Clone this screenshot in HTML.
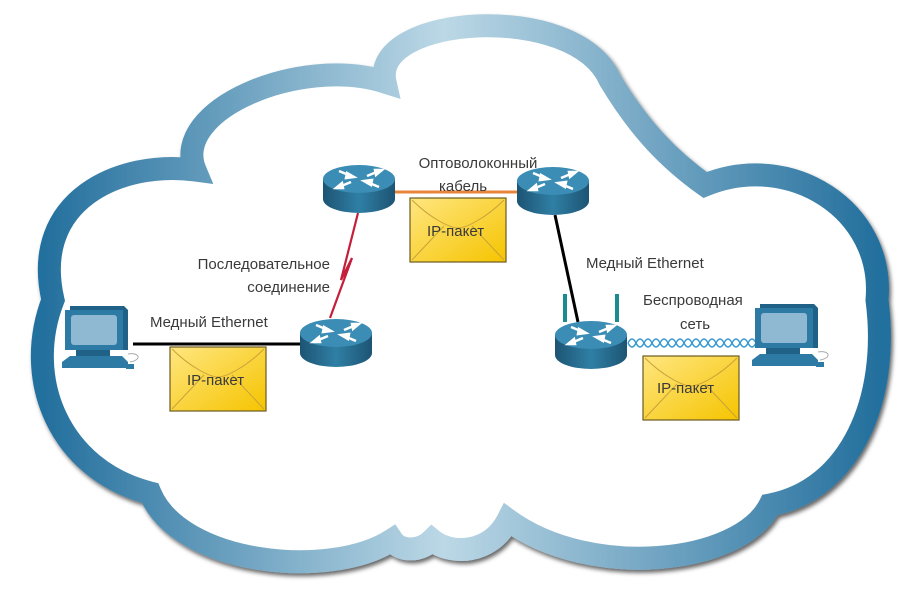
<!DOCTYPE html>
<html><head><meta charset="utf-8"><style>
html,body{margin:0;padding:0;background:#fff;}
svg{display:block;}
text{font-family:"Liberation Sans",sans-serif;font-size:15px;fill:#3a3a3a;}
</style></head><body>
<svg width="900" height="604" viewBox="0 0 900 604" xmlns="http://www.w3.org/2000/svg">
<defs>
<linearGradient id="cg" x1="0" y1="0" x2="1" y2="0">
<stop offset="0" stop-color="#236f9d"/><stop offset="0.48" stop-color="#bcd8e6"/><stop offset="1" stop-color="#236f9d"/>
</linearGradient>
<filter id="sh" x="-10%" y="-10%" width="120%" height="120%"><feDropShadow dx="2" dy="3" stdDeviation="2" flood-color="#000" flood-opacity="0.6"/></filter>
<linearGradient id="rt" x1="0" y1="0" x2="1" y2="0">
<stop offset="0" stop-color="#1d5473"/><stop offset="0.5" stop-color="#2f7fa5"/><stop offset="1" stop-color="#1d5473"/>
</linearGradient>
<linearGradient id="env" x1="0" y1="0" x2="1" y2="1">
<stop offset="0" stop-color="#ffe680"/><stop offset="1" stop-color="#f5c400"/>
</linearGradient>
<g id="router">
<path d="M0 14 V34 A36 14 0 0 0 72 34 V14 Z" fill="url(#rt)"/>
<ellipse cx="36" cy="14" rx="36" ry="14" fill="#3b8db5"/>
<g stroke="#fff" stroke-width="2.5" fill="#fff">
<line x1="16" y1="6" x2="28" y2="11"/><polygon points="31,12 24,8 23,13" />
<line x1="56" y1="22" x2="44" y2="17"/><polygon points="41,16 48,20 49,15"/>
<line x1="44" y1="11" x2="56" y2="6"/><polygon points="59,5 52,5 53,10"/>
<line x1="28" y1="17" x2="16" y2="22"/><polygon points="13,23 20,23 19,18"/>
</g>
</g>
<g id="pc">
<path d="M8 0 H62 L66 4 V44 H8 Z" fill="#1f6187"/>
<rect x="3" y="4" width="58" height="40" fill="#2d7aa5"/>
<rect x="9" y="9" width="46" height="30" rx="3" fill="#8fb8d3"/>
<rect x="14" y="44" width="34" height="6" fill="#1f6187"/>
<path d="M8 50 H60 L66 56 V62 H0 V56 Z" fill="#2d7aa5"/>
<rect x="64" y="58" width="8" height="5" fill="#2d7aa5"/>
<path d="M66 48 C78 46 80 54 68 56" stroke="#aaa" fill="none" stroke-width="1"/>
</g>
<g id="envl">
<rect x="0" y="0" width="96" height="64" fill="url(#env)" stroke="#6b5a20" stroke-width="1.2"/>
<path d="M2 2 C20 20 40 30 48 30 C56 30 76 20 94 2 M2 62 L34 28 M94 62 L62 28" stroke="#c9a23a" fill="none" stroke-width="1"/>
</g>
</defs>
<path d="M385 82 C370 15 575 0 610 80 C640 130 670 160 705 185 C790 150 885 210 877 300 C890 400 850 490 770 505 C740 565 590 580 508 520 C490 555 450 555 432 540 C420 552 400 552 392 540 C330 580 180 565 150 493 C60 470 22 380 53 300 C30 200 120 160 195 170 C170 110 300 55 385 82 Z" fill="#fff" stroke="url(#cg)" stroke-width="23" filter="url(#sh)"/>
<!-- links -->
<line x1="395" y1="192" x2="517" y2="192" stroke="#e8843a" stroke-width="3"/>
<path d="M358 213 L341 280 L352 258 L330 318" stroke="#c41e3a" stroke-width="2.2" fill="none"/>
<line x1="133" y1="344" x2="300" y2="344" stroke="#000" stroke-width="3"/>
<line x1="555" y1="215" x2="578" y2="322" stroke="#000" stroke-width="3"/>
<path d="M628 343 q4 -8 8 0 t8 0 t8 0 t8 0 t8 0 t8 0 t8 0 t8 0 t8 0 t8 0 t8 0 t8 0 t8 0 t8 0 t8 0 t8 0" stroke="#3a9bd0" fill="none" stroke-width="1.5"/>
<path d="M628 343 q4 8 8 0 t8 0 t8 0 t8 0 t8 0 t8 0 t8 0 t8 0 t8 0 t8 0 t8 0 t8 0 t8 0 t8 0 t8 0 t8 0" stroke="#3a9bd0" fill="none" stroke-width="1.5"/>
<!-- devices -->
<use href="#router" x="323" y="165"/>
<use href="#router" x="517" y="167"/>
<use href="#router" x="300" y="319"/>
<rect x="563" y="294" width="4" height="28" fill="#1a8c8c"/>
<rect x="615" y="294" width="4" height="28" fill="#1a8c8c"/>
<use href="#router" x="555" y="321"/>
<use href="#pc" x="62" y="306"/>
<use href="#pc" x="752" y="304"/>
<use href="#envl" x="410" y="198"/>
<use href="#envl" x="170" y="347"/>
<use href="#envl" x="643" y="356"/>
<text x="427" y="236">IP-пакет</text>
<text x="187" y="385">IP-пакет</text>
<text x="657" y="393">IP-пакет</text>
<!-- labels -->
<text x="478" y="168" text-anchor="middle">Оптоволоконный</text>
<text x="463" y="191" text-anchor="middle">кабель</text>
<text x="330" y="269" text-anchor="end">Последовательное</text>
<text x="330" y="292" text-anchor="end">соединение</text>
<text x="150" y="327">Медный Ethernet</text>
<text x="586" y="268">Медный Ethernet</text>
<text x="643" y="305">Беспроводная</text>
<text x="680" y="329">сеть</text>
</svg>
</body></html>
